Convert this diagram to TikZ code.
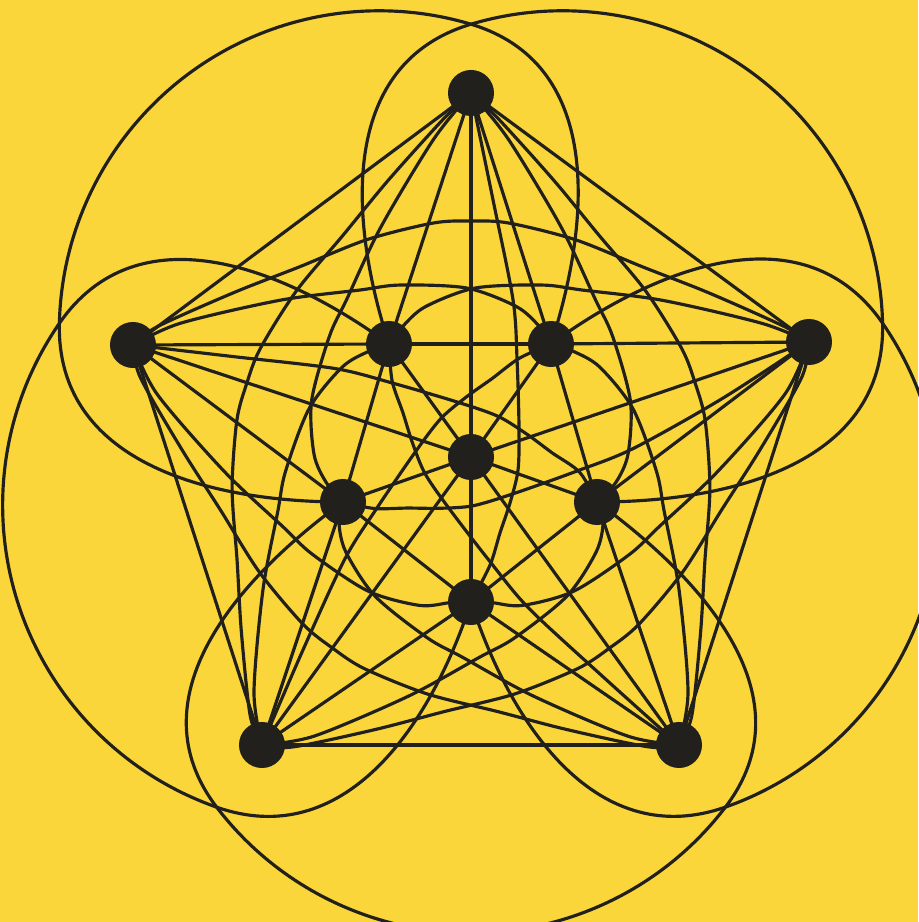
\documentclass[tikz,border=0pt]{standalone}
\definecolor{bg}{RGB}{250,214,58}
\definecolor{ink}{RGB}{34,32,28}
\begin{document}
\begin{tikzpicture}[x=0.01cm,y=0.01cm,
  edge/.style={draw=ink, line width=0.9pt, line join=round, line cap=round},
  dot/.style={circle, fill=ink, minimum size=0.46cm, inner sep=0pt}]
\fill[bg] (-471,-465) rectangle (447,457);
\useasboundingbox (-471,-465) rectangle (447,457);
\coordinate (C) at (0,0);
% outer vertices (clockwise from top) and inner vertices
\coordinate (O0) at (0,364);
\coordinate (O1) at (338,115);
\coordinate (O2) at (208,-288);
\coordinate (O3) at (-209,-288);
\coordinate (O4) at (-338,112);
\coordinate (I0) at (0,-145);
\coordinate (I1) at (-128,-45);
\coordinate (I2) at (-82,113);
\coordinate (I3) at (80,113);
\coordinate (I4) at (126,-45);
\foreach \k in {0,...,4}{
  \pgfmathtruncatemacro\ka{mod(\k+1,5)}
  \pgfmathtruncatemacro\kb{mod(\k+2,5)}
  \pgfmathtruncatemacro\kc{mod(\k+3,5)}
  \pgfmathtruncatemacro\kd{mod(\k+4,5)}
  \pgfmathsetmacro\r{72*\k}
  \pgfmathsetmacro\ao{108-\r}
  \pgfmathsetmacro\ai{196.65-\r}
  \pgfmathsetmacro\as{106.65-\r}
  \pgfmathsetmacro\ae{1.35-\r}
  \pgfmathsetmacro\bo{-88.65-\r}
  \pgfmathsetmacro\bi{0-\r}
  \pgfmathsetmacro\dt{90-\r}
  % straight edges
  \draw[edge] (C) -- (O\k);
  \draw[edge] (C) -- (I\k);
  \draw[edge] (O\k) -- (O\ka);
  \draw[edge] (O\k) -- (I\kb);
  \draw[edge] (O\k) -- (I\kc);
  \draw[edge] (I\k) -- (I\ka);
  % big arc: inner diagonal I_{k+2} -- I_{k+4}
  \draw[edge] (I\kb) to[out=\ao, in=\ai, looseness=1.05] (\dt:432.8)
     arc[start angle=\as, end angle=\ae, radius=320]
     to[out=\bo, in=\bi, looseness=1.05] (I\kd);
  % outer diagonal O_{k+4} -- O_{k+1}
  \draw[edge] plot[smooth] coordinates {(O\kd) ({157.5-\r}:340) ({145.4-\r}:289) ({132-\r}:256) ({115.6-\r}:241) ({99.2-\r}:237) ({90-\r}:236) ({80.8-\r}:237) ({64.4-\r}:241) ({48-\r}:256) ({34.6-\r}:289) ({22.5-\r}:340) (O\ka)};
  % mid edges O_{k+4} -- I_{k+3} and O_{k+1} -- I_{k+2}
  \draw[edge] plot[smooth] coordinates {(O\kd) ({155.3-\r}:320) ({140.6-\r}:247) ({123.6-\r}:200.5) ({112.4-\r}:186) ({91.4-\r}:169) ({73-\r}:157) ({62-\r}:147) (I\kc)};
  \draw[edge] plot[smooth] coordinates {(O\ka) ({24.7-\r}:320) ({39.4-\r}:247) ({56.4-\r}:200.5) ({67.6-\r}:186) ({88.6-\r}:169) ({107-\r}:157) ({118-\r}:147) (I\kb)};
  % opposite edge O_k -- I_k
  \draw[edge] plot[smooth] coordinates {(O\k) ({85.1-\r}:258) ({75-\r}:162.5) ({64.6-\r}:107.4) ({32-\r}:56.6) ({-15.5-\r}:48.8) ({-49.7-\r}:60.3) ({-69.1-\r}:81.3) ({-80-\r}:109.7) (I\k)};
}
\node[dot] (dC) at (C) {};
\foreach \k in {0,...,4}{
  \node[dot] (dO\k) at (O\k) {};
  \node[dot] (dI\k) at (I\k) {};
}
\end{tikzpicture}
\end{document}
